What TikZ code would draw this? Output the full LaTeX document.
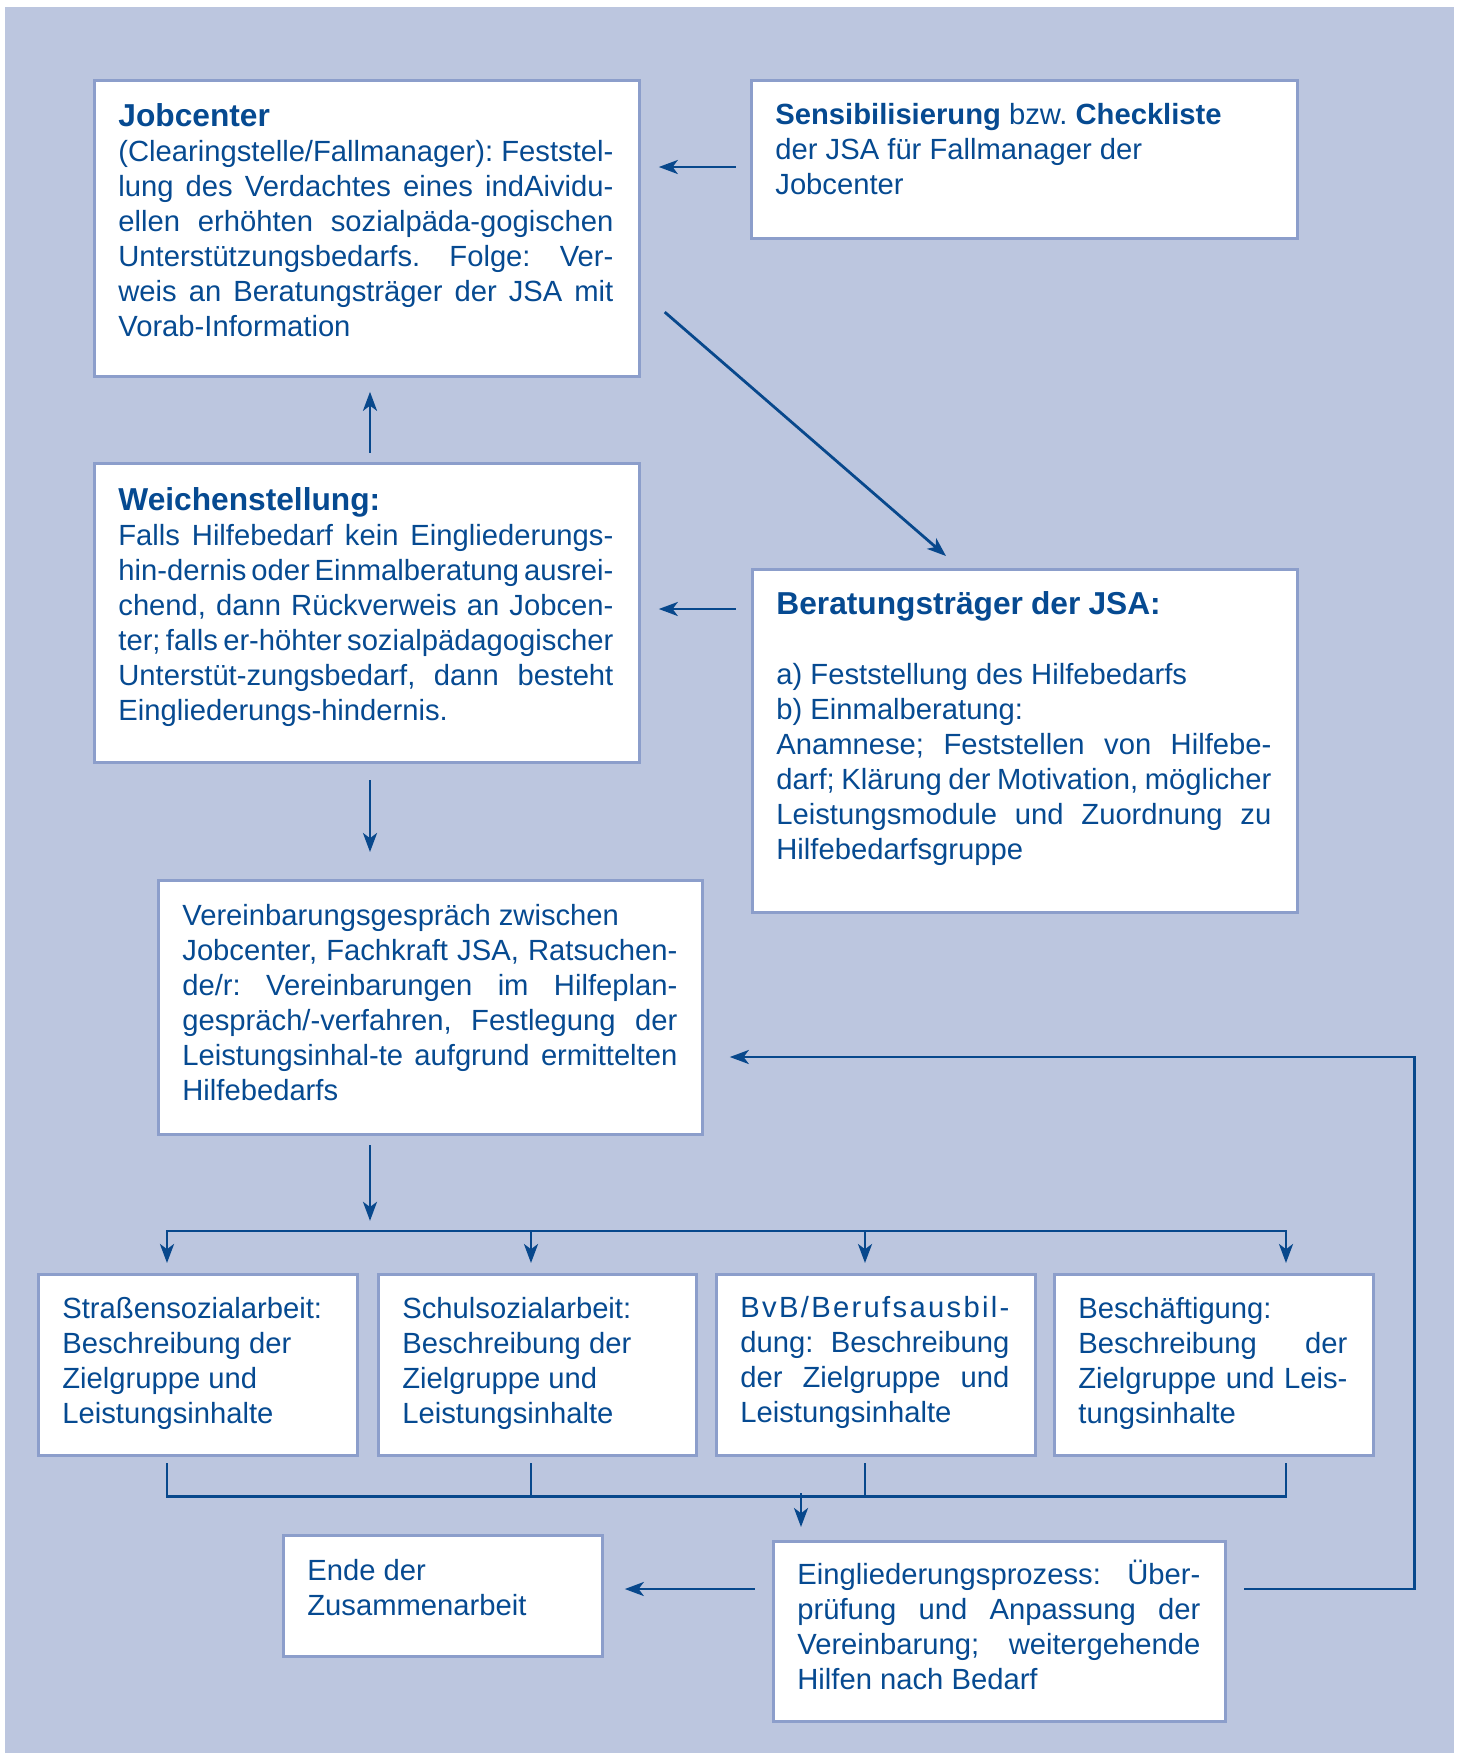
\documentclass[tikz,border=0pt]{standalone}
\usepackage{fontspec}
\setmainfont{Liberation Sans}
\usetikzlibrary{arrows.meta,calc}
\definecolor{bgblue}{RGB}{188,198,223}
\definecolor{bordercol}{RGB}{140,158,203}
\definecolor{textblue}{RGB}{6,74,145}
\definecolor{linecol}{RGB}{8,72,140}
\newdimen\pxu \pxu=0.5pt
\newcommand\bodyf{\fontsize{14.6pt}{17.55pt}\selectfont\frenchspacing\spaceskip=.278em plus 1.5em minus .13em\relax}
\newcommand\titf{\fontsize{15.85pt}{17.55pt}\selectfont\bfseries}
\newcommand\JL[1]{\hbox to\hsize{\strut#1}}
\newcommand\LL[1]{\hbox to\hsize{\strut#1\hfil}}
\newcommand\TB[2]{\vtop{\hsize=#1\pxu\bodyf\parindent=0pt #2}}
\tikzset{
  panel/.style={draw=bordercol, line width=1.4pt, fill=white, inner sep=0pt, anchor=north west},
  dims/.style 2 args={minimum width=#1*0.5pt, minimum height=#2*0.5pt},
  txt/.style={anchor=base west, inner sep=0pt, text=textblue},
  conn/.style={draw=linecol, line width=1.4pt, line cap=rect},
  arr/.style={conn, -{Stealth[length=9.5pt,width=7pt,inset=2.6pt]}},
}
\begin{document}
\begin{tikzpicture}[x=0.5pt,y=-0.5pt]
\useasboundingbox (0,0) rectangle (1458,1753);
\fill[white] (0,0) rectangle (1458,1753);
\fill[bgblue] (5,7) rectangle (1454,1753);

% boxes
\node[panel, dims={545}{296}] (jc) at (93,79) {};
\node[panel, dims={546}{158}] (sens) at (750,79) {};
\node[panel, dims={545}{299}] (wst) at (93,462) {};
\node[panel, dims={545}{343}] (ber) at (751,568) {};
\node[panel, dims={544}{254}] (ver) at (157,879) {};
\node[panel, dims={319}{181}] (strasse) at (37,1273) {};
\node[panel, dims={318}{181}] (schul) at (377,1273) {};
\node[panel, dims={319}{181}] (bvb) at (715,1273) {};
\node[panel, dims={319}{181}] (besch) at (1053,1273) {};
\node[panel, dims={319}{121}] (ende) at (282,1534) {};
\node[panel, dims={452}{180}] (ein) at (772,1540) {};

% texts
\node[txt] (jct) at ($(jc.north west)+(25,47)$) {\TB{495}{%
\LL{{\titf Jobcenter}}
\JL{(Clearingstelle/Fallmanager): Feststel-}
\JL{lung des Verdachtes eines indAividu-}
\JL{ellen erhöhten sozialpäda-gogischen}
\JL{Unterstützungsbedarfs. Folge: Ver-}
\JL{weis an Beratungsträger der JSA mit}
\LL{Vorab-Information}}};

\node[txt] (senst) at ($(sens.north west)+(25,45)$) {\TB{495}{%
\LL{\textbf{Sensibilisierung} bzw. \textbf{Checkliste}}
\LL{der JSA für Fallmanager der}
\LL{Jobcenter}}};

\node[txt] (wstt) at ($(wst.north west)+(25,48)$) {\TB{495}{%
\LL{{\titf Weichenstellung:}}
\JL{Falls Hilfebedarf kein Eingliederungs-}
\JL{hin-dernis oder Einmalberatung ausrei-}
\JL{chend, dann Rückverweis an Jobcen-}
\JL{ter; falls er-höhter sozialpädagogischer}
\JL{Unterstüt-zungsbedarf, dann besteht}
\LL{Eingliederungs-hindernis.}}};

\node[txt] (bert) at ($(ber.north west)+(25,46)$) {\TB{495}{%
\LL{{\titf Beratungsträger der JSA:}}
\LL{}
\LL{a) Feststellung des Hilfebedarfs}
\LL{b) Einmalberatung:}
\JL{Anamnese; Feststellen von Hilfebe-}
\JL{darf; Klärung der Motivation, möglicher}
\JL{Leistungsmodule und Zuordnung zu}
\LL{Hilfebedarfsgruppe}}};

\node[txt] (vert) at ($(ver.north west)+(25,46)$) {\TB{495}{%
\LL{Vereinbarungsgespräch zwischen}
\JL{Jobcenter, Fachkraft JSA, Ratsuchen-}
\JL{de/r: Vereinbarungen im Hilfeplan-}
\JL{gespräch/-verfahren, Festlegung der}
\JL{Leistungsinhal-te aufgrund ermittelten}
\LL{Hilfebedarfs}}};

\node[txt] (strasset) at ($(strasse.north west)+(25,45)$) {\TB{269}{%
\LL{Straßensozialarbeit:}
\LL{Beschreibung der}
\LL{Zielgruppe und}
\LL{Leistungsinhalte}}};

\node[txt] (schult) at ($(schul.north west)+(25,45)$) {\TB{269}{%
\LL{Schulsozialarbeit:}
\LL{Beschreibung der}
\LL{Zielgruppe und}
\LL{Leistungsinhalte}}};

\node[txt] (bvbt) at ($(bvb.north west)+(25,44.5)$) {\TB{269}{%
\JL{B\hfil v\hfil B\hfil /\hfil B\hfil e\hfil r\hfil u\hfil f\hfil s\hfil a\hfil u\hfil s\hfil b\hfil i\hfil l\hfil -}
\JL{dung: Beschreibung}
\JL{der Zielgruppe und}
\LL{Leistungsinhalte}}};

\node[txt] (bescht) at ($(besch.north west)+(25,45)$) {\TB{269}{%
\LL{Beschäftigung:}
\JL{Beschreibung der}
\JL{Zielgruppe und Leis-}
\LL{tungsinhalte}}};

\node[txt] (endet) at ($(ende.north west)+(25,46)$) {\TB{269}{%
\LL{Ende der}
\LL{Zusammenarbeit}}};

\node[txt] (eint) at ($(ein.north west)+(25,44)$) {\TB{403}{%
\JL{Eingliederungsprozess: Über-}
\JL{prüfung und Anpassung der}
\JL{Vereinbarung; weitergehende}
\LL{Hilfen nach Bedarf}}};

% connectors
\draw[arr] ($(sens.north west)+(-15,88)$) -- ($(jc.north east)+(18,88)$);
\draw[arr] ($(jc.north east)+(25,234)$) -- ($(ber.north west)+(195,-12)$);
\draw[arr] ($(ber.north west)+(-16,41)$) -- ($(wst.north east)+(18,147)$);
\draw[arr] ($(wst.north west)+(277,-10)$) -- ($(jc.south west)+(277,14)$);
\draw[arr] ($(wst.south west)+(277,18)$) -- ($(ver.north west)+(213,-27)$);
\draw[arr] ($(ver.south west)+(213,11)$) -- ($(ver.south west)+(213,85)$);

% distribution bus
\draw[conn] ($(strasse.north west)+(130,-42)$) -- ($(besch.north west)+(233,-42)$);
\draw[arr] ($(strasse.north west)+(130,-42)$) -- ($(strasse.north west)+(130,-10)$);
\draw[arr] ($(schul.north west)+(154,-42)$) -- ($(schul.north west)+(154,-10)$);
\draw[arr] ($(bvb.north west)+(150,-42)$) -- ($(bvb.north west)+(150,-10)$);
\draw[arr] ($(besch.north west)+(233,-42)$) -- ($(besch.north west)+(233,-10)$);

% collector
\draw[conn] ($(strasse.south west)+(130,8)$) |- ($(besch.south west)+(233,40)$) -- ($(besch.south west)+(233,8)$);
\draw[conn] ($(schul.south west)+(154,8)$) -- ++(0,32);
\draw[conn] ($(bvb.south west)+(150,8)$) -- ++(0,32);
\draw[arr] ($(ein.north west)+(29,-46)$) -- ($(ein.north west)+(29,-13)$);

% bottom
\draw[arr] ($(ein.north west)+(-18,49)$) -- ($(ende.north east)+(21,55)$);
\draw[arr] ($(ein.north east)+(19,49)$) -- ++(169,0) |- ($(ver.north east)+(26,178)$);
\end{tikzpicture}
\end{document}
